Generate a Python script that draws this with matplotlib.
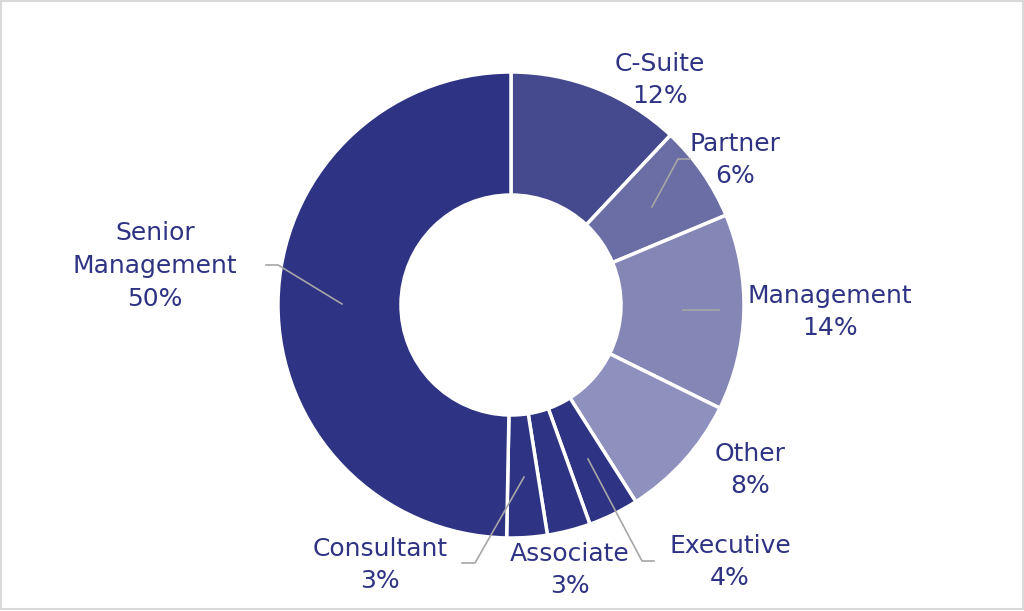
import matplotlib.pyplot as plt
from matplotlib.patches import Rectangle

W, H = 1024, 611

labels = ["C-Suite", "Partner", "Management", "Other", "Executive",
          "Associate", "Consultant", "Senior\nManagement"]
# wedge sizes as measured from the drawing, and the percentages printed on it
shares = [12.0, 6.7, 13.6, 8.7, 3.5, 3.0, 2.8, 49.7]
shown_pct = [12, 6, 14, 8, 4, 3, 3, 50]
colors = ["#454A8F", "#6B6EA5", "#8486B5", "#8E90BE", "#2E3383",
          "#2E3383", "#2E3383", "#2E3383"]

# label centres in pixels (from top-left)
label_pos = [(660, 80), (735, 160), (830, 312), (750, 470), (730, 562),
             (570, 570), (380, 565), (155, 266)]
# leader lines in pixels (None where none is drawn)
leaders = [None,
           [(652, 207), (678, 159), (690, 159)],
           [(683, 310), (719, 310)],
           None,
           [(588, 459), (642, 561), (654, 561)],
           None,
           [(524, 477), (475, 563), (462, 563)],
           [(342, 304), (278, 265), (266, 265)]]

text_color = "#2E3383"

fig = plt.figure(figsize=(W / 100, H / 100), dpi=100)
ax = fig.add_axes([0, 0, 1, 1])

ax.pie(shares, colors=colors, startangle=90, counterclock=False,
       center=(511, H - 305), radius=233, frame=True,
       wedgeprops=dict(width=123, edgecolor="white", linewidth=2.5))
ax.set_xlim(0, W)
ax.set_ylim(0, H)
ax.set_aspect("equal")
ax.axis("off")

for lab, pct, (x, y), ld in zip(labels, shown_pct, label_pos, leaders):
    ax.text(x, H - y, f"{lab}\n{pct}%", ha="center", va="center",
            fontsize=18, color=text_color, family="DejaVu Sans",
            linespacing=1.45)
    if ld:
        ax.plot([p[0] for p in ld], [H - p[1] for p in ld],
                color="#A6A6A6", lw=1.2)

fig.patches.append(Rectangle((0.001, 0.004), 0.998, 0.994,
                             transform=fig.transFigure, fill=False,
                             edgecolor="#D9D9D9", lw=1.5))
fig.savefig("out.png", dpi=100)
